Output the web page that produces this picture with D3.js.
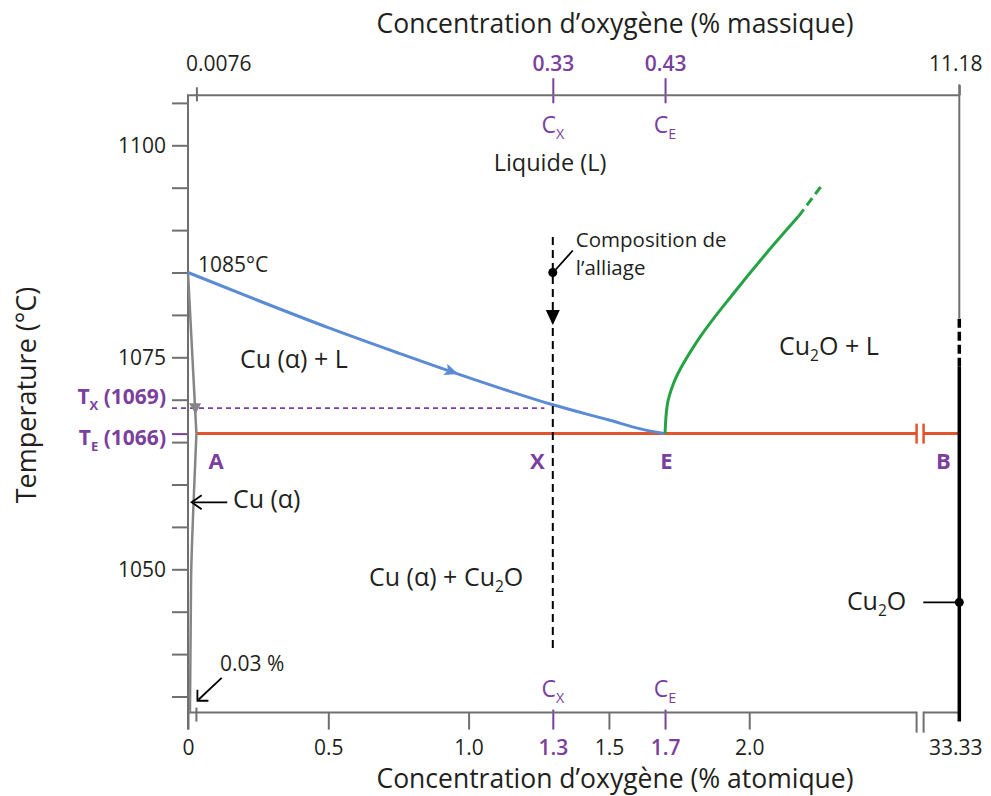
<!DOCTYPE html>
<html><head><meta charset="utf-8">
<script src="https://cdn.jsdelivr.net/npm/d3@7"></script>
<style>
body{margin:0;background:#fff;}
svg text{font-family:"Open Sans",sans-serif;fill:#231f20;}
</style></head><body>
<svg id="c" width="991" height="796"></svg>
<script>
// ---------- data ----------
const tempMajor = [1050, 1075, 1100];
const tempMinor = [1035, 1040, 1045, 1055, 1060, 1065, 1070, 1080, 1085, 1090, 1095, 1105];
const atomTicks = [0, 0.5, 1.0, 1.5, 2.0];
const atomTickLabels = ["0", "0.5", "1.0", "1.5", "2.0"];
const keyAtom = [1.3, 1.7];
const keyAtomLabels = ["1.3", "1.7"];
const keyMassLabels = ["0.33", "0.43"];
const keyNames = ["X", "E"];
const endAtom = [0.03, 33.33];
const endMassLabels = ["0.0076", "11.18"];
const tempMelt = 1085, tempX = 1069, tempE = 1066;
const liquidusCu = [[0,1085],[0.25,1081.7],[0.5,1078.5],[0.75,1075.5],[1.0,1072.6],[1.3,1069.4],[1.5,1067.6],[1.62,1066.5],[1.7,1066]];
const liquidusCu2O = [[1.7,1066],[1.708,1069.4],[1.73,1071.9],[1.825,1077.4],[1.943,1082.5],[2.062,1087.3],[2.175,1091.6]];
const liquidusCu2ODashed = [[2.175,1091.6],[2.264,1095.5]];
const solidusCu = [[0,1085],[0.03,1066]];
const solvusCu = [[0.03,1066],[0.02,1058],[0.011,1049],[0.007,1033.1]];
const cu2oAtom = 33.33;
const cu2oSolidTop = 1073.9, cu2oDashTop = 1079.6;
const alloyAtom = 1.3, alloyTop = 1089.2, alloyBottom = 1040.7;
const cu2oMarkT = 1046.1;
const breakAtom = 2.6;
const tBottom = 1033.1, tTop = 1105.9;

// ---------- scales ----------
const x = d3.scaleLinear().domain([0, breakAtom, cu2oAtom]).range([188, 917.6, 959.3]);
const y = d3.scaleLinear().domain([1050, 1100]).range([569.3, 145.3]);

const purple = "#7b3f9e", gray = "#6f6f6f", blue = "#5a8bd4", green = "#25a244", red = "#e2542b";
const svg = d3.select("#c");
const yAx = y(tBottom), yTopAx = y(tTop);

function rich(t, parts) {
  let shift = 0;
  parts.forEach(p => {
    const want = p.sub ? 6 : 0;
    const ts = t.append("tspan").text(p.t);
    if (want - shift !== 0) ts.attr("dy", want - shift);
    if (p.sub) ts.attr("font-size", "62%");
    shift = want;
  });
  return t;
}

// ---------- left axis ----------
function styleAxis(g, col) {
  g.select(".domain").remove();
  g.selectAll(".tick line").attr("stroke", col || gray).attr("stroke-width", 2);
}
svg.append("g").attr("transform", "translate(188,0)")
  .call(d3.axisLeft(y).tickValues(tempMinor).tickSize(16).tickFormat(""))
  .call(g => styleAxis(g));
svg.append("g").attr("transform", "translate(188,0)")
  .call(d3.axisLeft(y).tickValues(tempMajor).tickSize(16).tickPadding(6).tickFormat(d3.format("d")))
  .call(g => { styleAxis(g); g.selectAll("text").attr("font-size", 21).attr("dy", "0.35em"); });
const pAx = svg.append("g").attr("transform", "translate(188,0)")
  .call(d3.axisLeft(y).tickValues([tempX, tempE]).tickSize(16).tickPadding(6).tickFormat(""))
  .call(g => { styleAxis(g, purple); });
pAx.selectAll(".tick").each(function(d) {
  const tk = d3.select(this);
  if (d === tempX) tk.select("line").attr("stroke", "none");
  const t = tk.select("text").attr("font-size", 21).attr("font-weight", "bold").style("fill", purple)
    .attr("dy", d === tempX ? "-0.22em" : "0.5em");
  t.text(null);
  rich(t, [{t: "T"}, {t: d === tempX ? "X" : "E", sub: true}, {t: " (" + d + ")"}]);
});

// ---------- bottom axis ----------
svg.append("g").attr("transform", `translate(0,${yAx})`)
  .call(d3.axisBottom(x).tickValues(atomTicks).tickSize(17).tickPadding(10).tickFormat((d, i) => atomTickLabels[i]))
  .call(g => { styleAxis(g); g.selectAll("text").attr("font-size", 21); });
svg.append("g").attr("transform", `translate(0,${yAx})`)
  .call(d3.axisBottom(x).tickValues(keyAtom).tickSize(17).tickPadding(10).tickFormat((d, i) => keyAtomLabels[i]))
  .call(g => { styleAxis(g, purple); g.selectAll("line").attr("y1", -3);
    g.selectAll("text").attr("font-size", 21).attr("font-weight", 600).style("fill", purple); });
svg.append("g").attr("transform", `translate(0,${yAx})`)
  .call(d3.axisBottom(x).tickValues([cu2oAtom]).tickSize(0).tickPadding(27).tickFormat(() => "33.33"))
  .call(g => { g.select(".domain").remove(); g.selectAll("text").attr("font-size", 21).attr("dx", -4); });
svg.append("line").attr("x1", x(endAtom[0])).attr("x2", x(endAtom[0])).attr("y1", yAx - 5).attr("y2", yAx + 9)
  .attr("stroke", gray).attr("stroke-width", 2);
keyAtom.forEach((a, i) => {
  const t = svg.append("text").attr("x", x(a)).attr("y", yAx - 16).attr("text-anchor", "middle")
    .attr("font-size", 23).style("fill", purple);
  rich(t, [{t: "C"}, {t: keyNames[i], sub: true}]);
});

// ---------- top axis ----------
svg.append("g").attr("transform", `translate(0,${yTopAx})`)
  .call(d3.axisTop(x).tickValues(keyAtom).tickSize(17).tickPadding(7).tickFormat((d, i) => keyMassLabels[i]))
  .call(g => { styleAxis(g, purple); g.selectAll("line").attr("y2", 8).attr("y1", -17);
    g.selectAll("text").attr("font-size", 21).attr("font-weight", 600).style("fill", purple); });
svg.append("g").attr("transform", `translate(0,${yTopAx})`)
  .call(d3.axisTop(x).tickValues(endAtom).tickSize(10).tickPadding(14).tickFormat((d, i) => endMassLabels[i]))
  .call(g => { styleAxis(g);
    g.selectAll(".tick").filter(d => d === endAtom[0]).select("line").attr("y1", -8).attr("y2", 6);
    g.selectAll("text").attr("font-size", 21);
    g.selectAll(".tick").filter(d => d === endAtom[0]).select("text").attr("text-anchor", "start").attr("dx", -11);
    g.selectAll(".tick").filter(d => d === endAtom[1]).select("text").attr("dx", -4); });
keyAtom.forEach((a, i) => {
  const t = svg.append("text").attr("x", x(a)).attr("y", yTopAx + 38).attr("text-anchor", "middle")
    .attr("font-size", 23).style("fill", purple);
  rich(t, [{t: "C"}, {t: keyNames[i], sub: true}]);
});

// ---------- frame ----------
const fr = svg.append("g").attr("stroke", gray).attr("stroke-width", 2).attr("fill", "none");
fr.append("line").attr("x1", 188).attr("x2", 188).attr("y1", yTopAx).attr("y2", yAx + 17);
fr.append("line").attr("x1", 187).attr("x2", x(cu2oAtom)).attr("y1", yTopAx).attr("y2", yTopAx);
const bx1 = x(breakAtom) - 1, bx2 = bx1 + 7;
fr.append("line").attr("x1", 187).attr("x2", bx1).attr("y1", yAx).attr("y2", yAx);
fr.append("line").attr("x1", bx2).attr("x2", x(cu2oAtom)).attr("y1", yAx).attr("y2", yAx);
fr.append("line").attr("x1", bx1).attr("x2", bx1).attr("y1", yAx - 1).attr("y2", yAx + 20);
fr.append("line").attr("x1", bx2).attr("x2", bx2).attr("y1", yAx - 1).attr("y2", yAx + 20);
fr.append("line").attr("x1", x(cu2oAtom)).attr("x2", x(cu2oAtom)).attr("y1", yTopAx - 11).attr("y2", y(cu2oDashTop));

// ---------- phase lines ----------
const line = d3.line().x(d => x(d[0])).y(d => y(d[1]));
svg.append("line").attr("x1", 172).attr("x2", x(1.27)).attr("y1", y(tempX)).attr("y2", y(tempX))
  .attr("stroke", purple).attr("stroke-width", 1.8).attr("stroke-dasharray", "5,4");
svg.append("line").attr("x1", x(0.03)).attr("x2", bx1).attr("y1", y(tempE)).attr("y2", y(tempE)).attr("stroke", red).attr("stroke-width", 3);
svg.append("line").attr("x1", bx2).attr("x2", x(cu2oAtom)).attr("y1", y(tempE)).attr("y2", y(tempE)).attr("stroke", red).attr("stroke-width", 3);
[bx1, bx2].forEach(bx => svg.append("line").attr("x1", bx).attr("x2", bx).attr("y1", y(tempE) - 10).attr("y2", y(tempE) + 10).attr("stroke", red).attr("stroke-width", 2.5));
svg.append("path").datum(solidusCu).attr("d", line).attr("fill", "none").attr("stroke", "#858585").attr("stroke-width", 2.5);
svg.append("path").datum(solvusCu).attr("d", d3.line().x(d => x(d[0])).y(d => y(d[1])).curve(d3.curveMonotoneY)).attr("fill", "none").attr("stroke", "#858585").attr("stroke-width", 2.5);
{
  const f = (tempMelt - tempX) / (tempMelt - tempE);
  const ax = x(solidusCu[0][0] + f * (solidusCu[1][0] - solidusCu[0][0]));
  const ay = y(tempX);
  svg.append("path").attr("d", `M${ax - 6},${ay - 5}L${ax + 6},${ay - 5}L${ax + 0.5},${ay + 6}Z`).attr("fill", "#858585");
}
const curve = d3.line().x(d => x(d[0])).y(d => y(d[1])).curve(d3.curveMonotoneX);
svg.append("path").datum(liquidusCu).attr("d", curve).attr("fill", "none").attr("stroke", blue).attr("stroke-width", 3);
{
  const p0 = liquidusCu[3], p1 = liquidusCu[4];
  const px = x(0.94), py = y(p0[1] + (0.94 - p0[0]) / (p1[0] - p0[0]) * (p1[1] - p0[1]));
  const ang = Math.atan2(y(p1[1]) - y(p0[1]), x(p1[0]) - x(p0[0])) * 180 / Math.PI;
  svg.append("path").attr("d", "M7,0L-7,-6L-4,0L-7,6Z").attr("fill", blue)
    .attr("transform", `translate(${px},${py}) rotate(${ang})`);
}
const curveY = d3.line().x(d => x(d[0])).y(d => y(d[1])).curve(d3.curveMonotoneY);
svg.append("path").datum(liquidusCu2O).attr("d", curveY).attr("fill", "none").attr("stroke", green).attr("stroke-width", 3);
svg.append("path").datum(liquidusCu2ODashed).attr("d", line).attr("fill", "none").attr("stroke", green).attr("stroke-width", 3).attr("stroke-dasharray", "9,5");
svg.append("line").attr("x1", x(cu2oAtom)).attr("x2", x(cu2oAtom)).attr("y1", yAx + 9).attr("y2", y(cu2oSolidTop)).attr("stroke", "#000").attr("stroke-width", 3.5);
svg.append("line").attr("x1", x(cu2oAtom)).attr("x2", x(cu2oAtom)).attr("y1", y(cu2oSolidTop)).attr("y2", y(cu2oDashTop)).attr("stroke", "#000").attr("stroke-width", 3.5).attr("stroke-dasharray", "9,4");
svg.append("line").attr("x1", x(cu2oAtom) - 36).attr("x2", x(cu2oAtom)).attr("y1", y(cu2oMarkT)).attr("y2", y(cu2oMarkT)).attr("stroke", "#000").attr("stroke-width", 1.8);
svg.append("circle").attr("cx", x(cu2oAtom)).attr("cy", y(cu2oMarkT)).attr("r", 4.5).attr("fill", "#000");

// alloy composition
svg.append("line").attr("x1", x(alloyAtom)).attr("x2", x(alloyAtom)).attr("y1", y(alloyTop)).attr("y2", y(alloyBottom))
  .attr("stroke", "#000").attr("stroke-width", 2).attr("stroke-dasharray", "8,5");
svg.append("circle").attr("cx", x(alloyAtom)).attr("cy", y(tempMelt)).attr("r", 4.5).attr("fill", "#000");
{
  const ax = x(alloyAtom), tip = y(1078.8);
  svg.append("path").attr("d", `M${ax - 7},${tip - 15}L${ax + 7},${tip - 15}L${ax},${tip}Z`).attr("fill", "#000");
  svg.append("line").attr("x1", ax + 3).attr("y1", y(tempMelt) - 3).attr("x2", ax + 20).attr("y2", y(tempMelt) - 22).attr("stroke", "#000").attr("stroke-width", 1.8);
}

// ---------- annotations ----------
function txt(px, py, s, size, anchor) {
  return svg.append("text").attr("x", px).attr("y", py).attr("font-size", size).attr("text-anchor", anchor || "start").text(s);
}
txt(x(1.29), y(1097.0), "Liquide (L)", 23.5, "middle");
txt(x(0.185), y(1073.7), "Cu (α) + L", 25);
rich(svg.append("text").attr("x", x(2.106)).attr("y", y(1075.3)).attr("font-size", 25), [{t: "Cu"}, {t: "2", sub: true}, {t: "O + L"}]);
rich(svg.append("text").attr("x", x(0.92)).attr("y", y(1048.0)).attr("font-size", 25).attr("text-anchor", "middle"), [{t: "Cu (α) + Cu"}, {t: "2", sub: true}, {t: "O"}]);
txt(x(0.16), y(1057.2), "Cu (α)", 25);
rich(svg.append("text").attr("x", x(cu2oAtom) - 53).attr("y", y(cu2oMarkT) + 8).attr("font-size", 25).attr("text-anchor", "end"), [{t: "Cu"}, {t: "2", sub: true}, {t: "O"}]);
txt(x(0.036), y(1085.1), "1085°C", 21);
txt(x(0.114), y(1038.0), "0.03 %", 21);
txt(x(alloyAtom) + 23, y(1088.0), "Composition de", 20.5);
txt(x(alloyAtom) + 23, y(1088.0) + 28, "l’alliage", 20.5);
{
  const yy = y(1057.9), tipx = x(0.013);
  svg.append("line").attr("x1", tipx + 2).attr("x2", x(0.14)).attr("y1", yy).attr("y2", yy).attr("stroke", "#000").attr("stroke-width", 1.8);
  svg.append("path").attr("d", `M${tipx + 10},${yy - 7}L${tipx},${yy}L${tipx + 10},${yy + 7}`).attr("fill", "none").attr("stroke", "#000").attr("stroke-width", 1.8);
}
{
  const tx = x(0.03) + 1, ty = y(1034.5);
  const sx = x(0.12), sy = y(1037.2);
  svg.append("line").attr("x1", tx + 1).attr("y1", ty - 1).attr("x2", sx).attr("y2", sy).attr("stroke", "#000").attr("stroke-width", 1.8);
  svg.append("path").attr("d", `M${tx},${ty - 11}L${tx},${ty}L${tx + 11},${ty}`).attr("fill", "none").attr("stroke", "#000").attr("stroke-width", 1.8);
}
[["A", x(0.1)], ["X", x(1.245)], ["E", x(1.705)], ["B", x(cu2oAtom) - 16]].forEach(([s, px]) => {
  txt(px, y(1061.8), s, 22, "middle").attr("font-weight", "bold").style("fill", purple);
});
txt(615, 33, "Concentration d’oxygène (% massique)", 26.5, "middle");
txt(615, 788, "Concentration d’oxygène (% atomique)", 26.5, "middle");
svg.append("text").attr("transform", "translate(36,395) rotate(-90)").attr("text-anchor", "middle").attr("font-size", 27).text("Temperature (°C)");
</script>
</body></html>
